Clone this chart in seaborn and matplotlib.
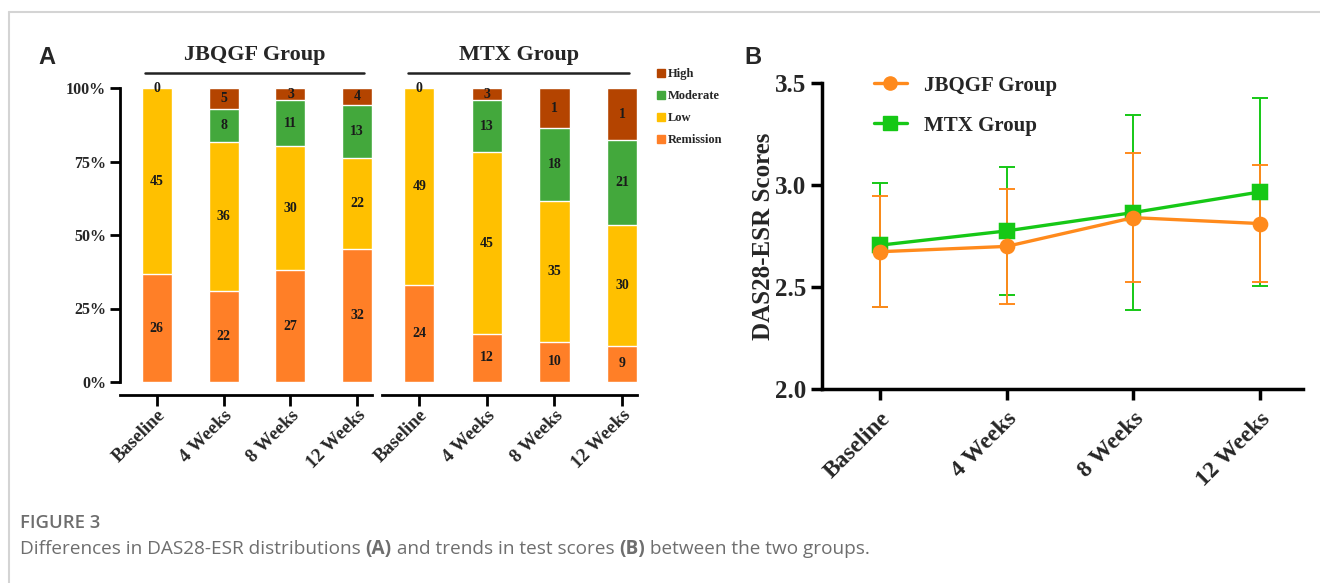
import numpy as np
import pandas as pd
import matplotlib
matplotlib.use("Agg")
from matplotlib import pyplot as plt
from matplotlib.lines import Line2D
import seaborn as sns


# >>>> DATA <<<<

timepoints = ["Baseline", "4 Weeks", "8 Weeks", "12 Weeks"]
categories = ["Remission", "Low", "Moderate", "High"]

jbqgf_remission = [26, 22, 27, 32]
jbqgf_low = [45, 36, 30, 22]
jbqgf_moderate = [0, 8, 11, 13]
jbqgf_high = [0, 5, 3, 4]
jbqgf_high_text = ["0", "5", "3", "4"]

mtx_remission = [24, 12, 10, 9]
mtx_low = [49, 45, 35, 30]
mtx_moderate = [0, 13, 18, 21]
mtx_high = [0, 3, 10, 13]
mtx_high_text = ["0", "3", "1", "1"]   # the source figure prints "1" on the last two

jbqgf_mean = [2.673, 2.699, 2.840, 2.811]
jbqgf_err = [0.272, 0.282, 0.315, 0.285]
mtx_mean = [2.705, 2.775, 2.865, 2.966]
mtx_err = [0.303, 0.312, 0.476, 0.462]

bar_colors = {"Remission": "#FF7F27", "Low": "#FFC000", "Moderate": "#43A83C", "High": "#B44400"}
line_colors = {"JBQGF Group": "#FF8A1C", "MTX Group": "#16C816"}

#-----------------------------------------------------------------------------------------------------------------------

sns.set_theme(style="white")
plt.rcParams['font.family'] = ['Liberation Serif', 'DejaVu Serif']
plt.rcParams['font.weight'] = 'bold'

W, H = 1320, 583
fig = plt.figure(figsize=(W / 100, H / 100), dpi=100)


def px_axes(left, top, right, bottom):
    return fig.add_axes([left / W, 1 - bottom / H, (right - left) / W, (bottom - top) / H])


def stacked(ax, counts, high_text, title, show_y):
    df = pd.DataFrame(counts, index=categories, columns=timepoints)
    pct = df / df.sum() * 100
    cum = pct.cumsum()
    # draw cumulative tops first, lower layers on top of them
    for cat in categories[::-1]:
        sns.barplot(x=timepoints, y=cum.loc[cat].values, color=bar_colors[cat], width=0.45,
                    saturation=1, ax=ax, zorder=2)
    for i, tp in enumerate(timepoints):
        for cat in categories:
            n = df.loc[cat, tp]
            if n == 0:
                continue
            yc = cum.loc[cat, tp] - pct.loc[cat, tp] / 2
            txt = high_text[i] if cat == "High" else str(n)
            ax.text(i, yc, txt, ha='center', va='center', fontsize=10, fontweight='bold', color='#1a1a1a', zorder=3)
        if df.loc["High", tp] == 0 and df.loc["Moderate", tp] == 0:
            ax.text(i, 100, high_text[i], ha='center', va='center', fontsize=10, fontweight='bold', color='#1a1a1a', zorder=3)
    ax.set_ylim(0, 100)
    ax.set_xlim(-0.55, 3.22)
    for s in ['top', 'right']:
        ax.spines[s].set_visible(False)
    ax.spines['bottom'].set_position(('outward', 9))
    ax.spines['bottom'].set_linewidth(2)
    ax.spines['bottom'].set_color('black')
    ax.tick_params(axis='x', direction='out', length=8, width=2, color='black', bottom=True, pad=1)
    ax.set_xticks(range(len(timepoints)))
    ax.set_xticklabels(timepoints, rotation=45, ha='right', rotation_mode='anchor', fontsize=13.5, fontweight='bold')
    if show_y:
        ax.spines['left'].set_linewidth(2)
        ax.spines['left'].set_color('black')
        ax.set_yticks([0, 25, 50, 75, 100])
        ax.set_yticklabels(["0%", "25%", "50%", "75%", "100%"], fontsize=11.5, fontweight='bold')
        ax.tick_params(axis='y', direction='out', length=7, width=2, color='black', left=True, pad=3)
    else:
        ax.spines['left'].set_visible(False)
        ax.set_yticks([])
    ax.set_xlabel("")
    ax.set_ylabel("")
    ax.text(1.47, 1.112, title, transform=ax.get_xaxis_transform(), ha='center', va='center',
            fontsize=16, fontweight='bold')
    ax.plot([-0.17, 3.1], [1.052, 1.052], transform=ax.get_xaxis_transform(), color='#222222', lw=1.8, clip_on=False)


ax1 = px_axes(120, 88, 372, 382)
stacked(ax1, [jbqgf_remission, jbqgf_low, jbqgf_moderate, jbqgf_high], jbqgf_high_text, "JBQGF Group", True)
ax2 = px_axes(382, 88, 637, 382)
stacked(ax2, [mtx_remission, mtx_low, mtx_moderate, mtx_high], mtx_high_text, "MTX Group", False)

leg_handles = [Line2D([], [], marker='s', ls='none', color=bar_colors[c], markersize=5.5) for c in categories[::-1]]
fig.legend(leg_handles, categories[::-1], loc='upper left', bbox_to_anchor=(646 / W, 1 - 57 / H),
           frameon=False, handlelength=0.6, handletextpad=0.25, labelspacing=0.8,
           prop={'family': ['Liberation Serif'], 'weight': 'bold', 'size': 9})

# >>>> PANEL B <<<<

ax3 = px_axes(822, 83, 1303, 389)
scores = pd.DataFrame({
    "time": timepoints * 2,
    "score": mtx_mean + jbqgf_mean,
    "group": ["MTX Group"] * 4 + ["JBQGF Group"] * 4,
})
sns.pointplot(data=scores, x="time", y="score", hue="group", order=timepoints,
              hue_order=["MTX Group", "JBQGF Group"], palette=line_colors, markers=["s", "o"],
              linestyles=["-", "-"], errorbar=None, markersize=9.5, linewidth=2.4, ax=ax3, legend=False, zorder=3)
xs = np.arange(len(timepoints))
ax3.errorbar(xs, mtx_mean, yerr=mtx_err, fmt='none', ecolor=line_colors["MTX Group"], elinewidth=1.4,
             capsize=6, capthick=1.4, zorder=2)
ax3.errorbar(xs, jbqgf_mean, yerr=jbqgf_err, fmt='none', ecolor=line_colors["JBQGF Group"], elinewidth=1.4,
             capsize=6, capthick=1.4, zorder=2)
ax3.set_ylim(2.0, 3.5)
ax3.set_xlim(-0.458, 3.34)
ax3.set_yticks([2.0, 2.5, 3.0, 3.5])
ax3.set_yticklabels(["2.0", "2.5", "3.0", "3.5"], fontsize=18, fontweight='bold')
ax3.set_xticks(xs)
ax3.set_xticklabels(timepoints, rotation=45, ha='right', rotation_mode='anchor', fontsize=17, fontweight='bold')
for s in ['top', 'right']:
    ax3.spines[s].set_visible(False)
for s in ['left', 'bottom']:
    ax3.spines[s].set_linewidth(2.5)
    ax3.spines[s].set_color('black')
ax3.tick_params(axis='both', direction='out', length=8, width=2.5, color='black', left=True, bottom=True)
ax3.tick_params(axis='x', pad=6)
ax3.set_xlabel("")
ax3.set_ylabel("DAS28-ESR Scores", fontsize=18, fontweight='bold', labelpad=0)

b_handles = [Line2D([], [], color=line_colors["JBQGF Group"], marker='o', lw=2.4, markersize=9.5),
             Line2D([], [], color=line_colors["MTX Group"], marker='s', lw=2.4, markersize=9.5)]
fig.legend(b_handles, ["JBQGF Group", "MTX Group"], loc='upper left', bbox_to_anchor=(855 / W, 1 - 57 / H),
           frameon=False, handlelength=1.6, handletextpad=0.8, labelspacing=0.95,
           prop={'family': ['Liberation Serif'], 'weight': 'bold', 'size': 15})

# panel letters
fig.text(38 / W, 1 - 58 / H, "A", fontsize=17, fontweight='bold', family=['Liberation Sans'], va='center')
fig.text(744 / W, 1 - 58 / H, "B", fontsize=17, fontweight='bold', family=['Liberation Sans'], va='center')

# frame lines
fig.add_artist(Line2D([9 / W, 1], [1 - 12 / H, 1 - 12 / H], color='#d4d4d4', lw=1.5))
fig.add_artist(Line2D([9 / W, 9 / W], [0, 1 - 12 / H], color='#d4d4d4', lw=1.5))

# caption
cap_font = ['Open Sans', 'DejaVu Sans']
fig.text(20 / W, 1 - 523 / H, "FIGURE 3", fontsize=13.3, fontweight='semibold', family=cap_font,
         color='#6e6e6e', va='center')
renderer = fig.canvas.get_renderer()
x = 20 / W
pieces = [("Differences in DAS28-ESR distributions ", 'normal'), ("(A)", 'bold'),
          (" and trends in test scores ", 'normal'), ("(B)", 'bold'), (" between the two groups.", 'normal')]
for txt, wt in pieces:
    t = fig.text(x, 1 - 549 / H, txt, fontsize=13.65, fontweight=wt, family=cap_font, color='#6e6e6e', va='center')
    x += t.get_window_extent(renderer=renderer).width / W

fig.savefig("out.png", dpi=100)
